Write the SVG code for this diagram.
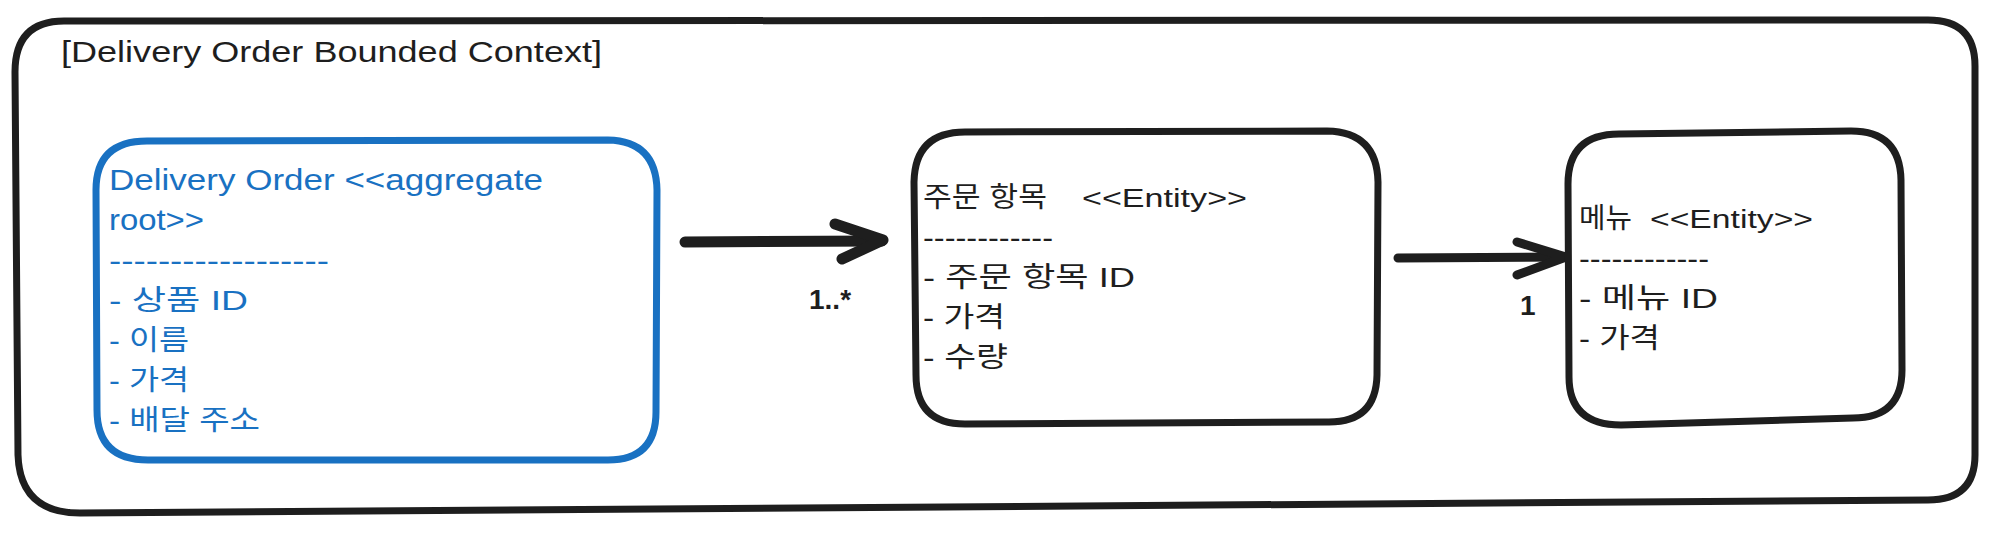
<svg xmlns="http://www.w3.org/2000/svg" width="1995" height="534" viewBox="0 0 1995 534">
  <style>
    .box { fill: #ffffff; stroke: #1e1e1e; stroke-width: 7; stroke-linejoin: round; stroke-linecap: round; }
    .bluebox { fill: #ffffff; stroke: #1971c2; stroke-width: 7; stroke-linejoin: round; stroke-linecap: round; }
    .conn { fill: none; stroke: #1e1e1e; stroke-linecap: round; stroke-linejoin: round; }
    .t { font-family: "Liberation Sans", "Noto Sans CJK KR", sans-serif; font-size: 28px; fill: #1e1e1e; }
    .b { fill: #1971c2; }
    .lbl { font-family: "Liberation Sans", "Noto Sans CJK KR", sans-serif; font-size: 28px; font-weight: bold; fill: #1e1e1e; }
  </style>
  <rect x="0" y="0" width="1995" height="534" fill="#ffffff"/>

  <g id="bounded-context">
    <path class="box" d="M 64 21 L 1928 20 Q 1975 20 1975 66 L 1975 455 Q 1975 500 1928 500 L 80 513 Q 20 513 18 455 L 15 72 Q 15 21 64 21 Z"/>
    <text class="t" x="61" y="62" style="font-size:30px" textLength="541" lengthAdjust="spacingAndGlyphs">[Delivery Order Bounded Context]</text>
  </g>

  <g id="connectors">
    <g id="edge-order-item">
      <path class="conn" style="stroke-width:11" d="M 685 242 L 882 241"/>
      <path class="conn" style="stroke-width:11" d="M 835 224 L 883 240 L 842 259"/>
      <text class="lbl" x="809" y="309">1..*</text>
    </g>
    <g id="edge-item-menu">
      <path class="conn" style="stroke-width:9" d="M 1398 258 L 1565 257"/>
      <path class="conn" style="stroke-width:9" d="M 1517 242 L 1566 257 L 1517 275"/>
      <text class="lbl" x="1520" y="315">1</text>
    </g>
  </g>

  <g id="delivery-order">
    <path class="bluebox" d="M 147 141 L 608 140 Q 656 141 657 190 L 656 412 Q 656 460 608 460 L 148 460 Q 97 460 97 410 L 96 190 Q 96 141 147 141 Z"/>
    <text class="t b" x="109" y="190" style="font-size:30px" textLength="434" lengthAdjust="spacingAndGlyphs">Delivery Order &lt;&lt;aggregate</text>
    <text class="t b" x="109" y="230" style="font-size:30px" textLength="95" lengthAdjust="spacingAndGlyphs">root&gt;&gt;</text>
    <text class="t b" x="109" y="270" textLength="220" lengthAdjust="spacingAndGlyphs">------------------</text>
    <text class="t b" x="109" y="310" textLength="139" lengthAdjust="spacingAndGlyphs">- 상품 ID</text>
    <text class="t b" x="109" y="350" textLength="80" lengthAdjust="spacingAndGlyphs">- 이름</text>
    <text class="t b" x="109" y="390" textLength="80" lengthAdjust="spacingAndGlyphs">- 가격</text>
    <text class="t b" x="109" y="430" textLength="151" lengthAdjust="spacingAndGlyphs">- 배달 주소</text>
  </g>

  <g id="order-item">
    <path class="box" d="M 965 132 L 1327 131 Q 1377 132 1378 182 L 1377 375 Q 1376 423 1327 422 L 965 424 Q 916 424 916 375 L 914 182 Q 915 132 965 132 Z"/>
    <text class="t" x="923" y="207" textLength="124" lengthAdjust="spacingAndGlyphs">주문 항목</text>
    <text class="t" x="1082" y="207" style="font-size:26px" textLength="165" lengthAdjust="spacingAndGlyphs">&lt;&lt;Entity&gt;&gt;</text>
    <text class="t" x="923" y="247" textLength="130" lengthAdjust="spacingAndGlyphs">------------</text>
    <text class="t" x="923" y="287" textLength="212" lengthAdjust="spacingAndGlyphs">- 주문 항목 ID</text>
    <text class="t" x="923" y="327" textLength="82" lengthAdjust="spacingAndGlyphs">- 가격</text>
    <text class="t" x="923" y="367" textLength="85" lengthAdjust="spacingAndGlyphs">- 수량</text>
  </g>

  <g id="menu">
    <path class="box" d="M 1619 134 L 1851 131 Q 1900 131 1901 180 L 1902 370 Q 1902 418 1853 418 L 1621 425 Q 1569 425 1569 377 L 1568 184 Q 1568 134 1619 134 Z"/>
    <text class="t" x="1579" y="228" textLength="53" lengthAdjust="spacingAndGlyphs">메뉴</text>
    <text class="t" x="1650" y="228" style="font-size:26px" textLength="163" lengthAdjust="spacingAndGlyphs">&lt;&lt;Entity&gt;&gt;</text>
    <text class="t" x="1579" y="268" textLength="130" lengthAdjust="spacingAndGlyphs">------------</text>
    <text class="t" x="1579" y="308" textLength="139" lengthAdjust="spacingAndGlyphs">- 메뉴 ID</text>
    <text class="t" x="1579" y="348" textLength="81" lengthAdjust="spacingAndGlyphs">- 가격</text>
  </g>
</svg>
